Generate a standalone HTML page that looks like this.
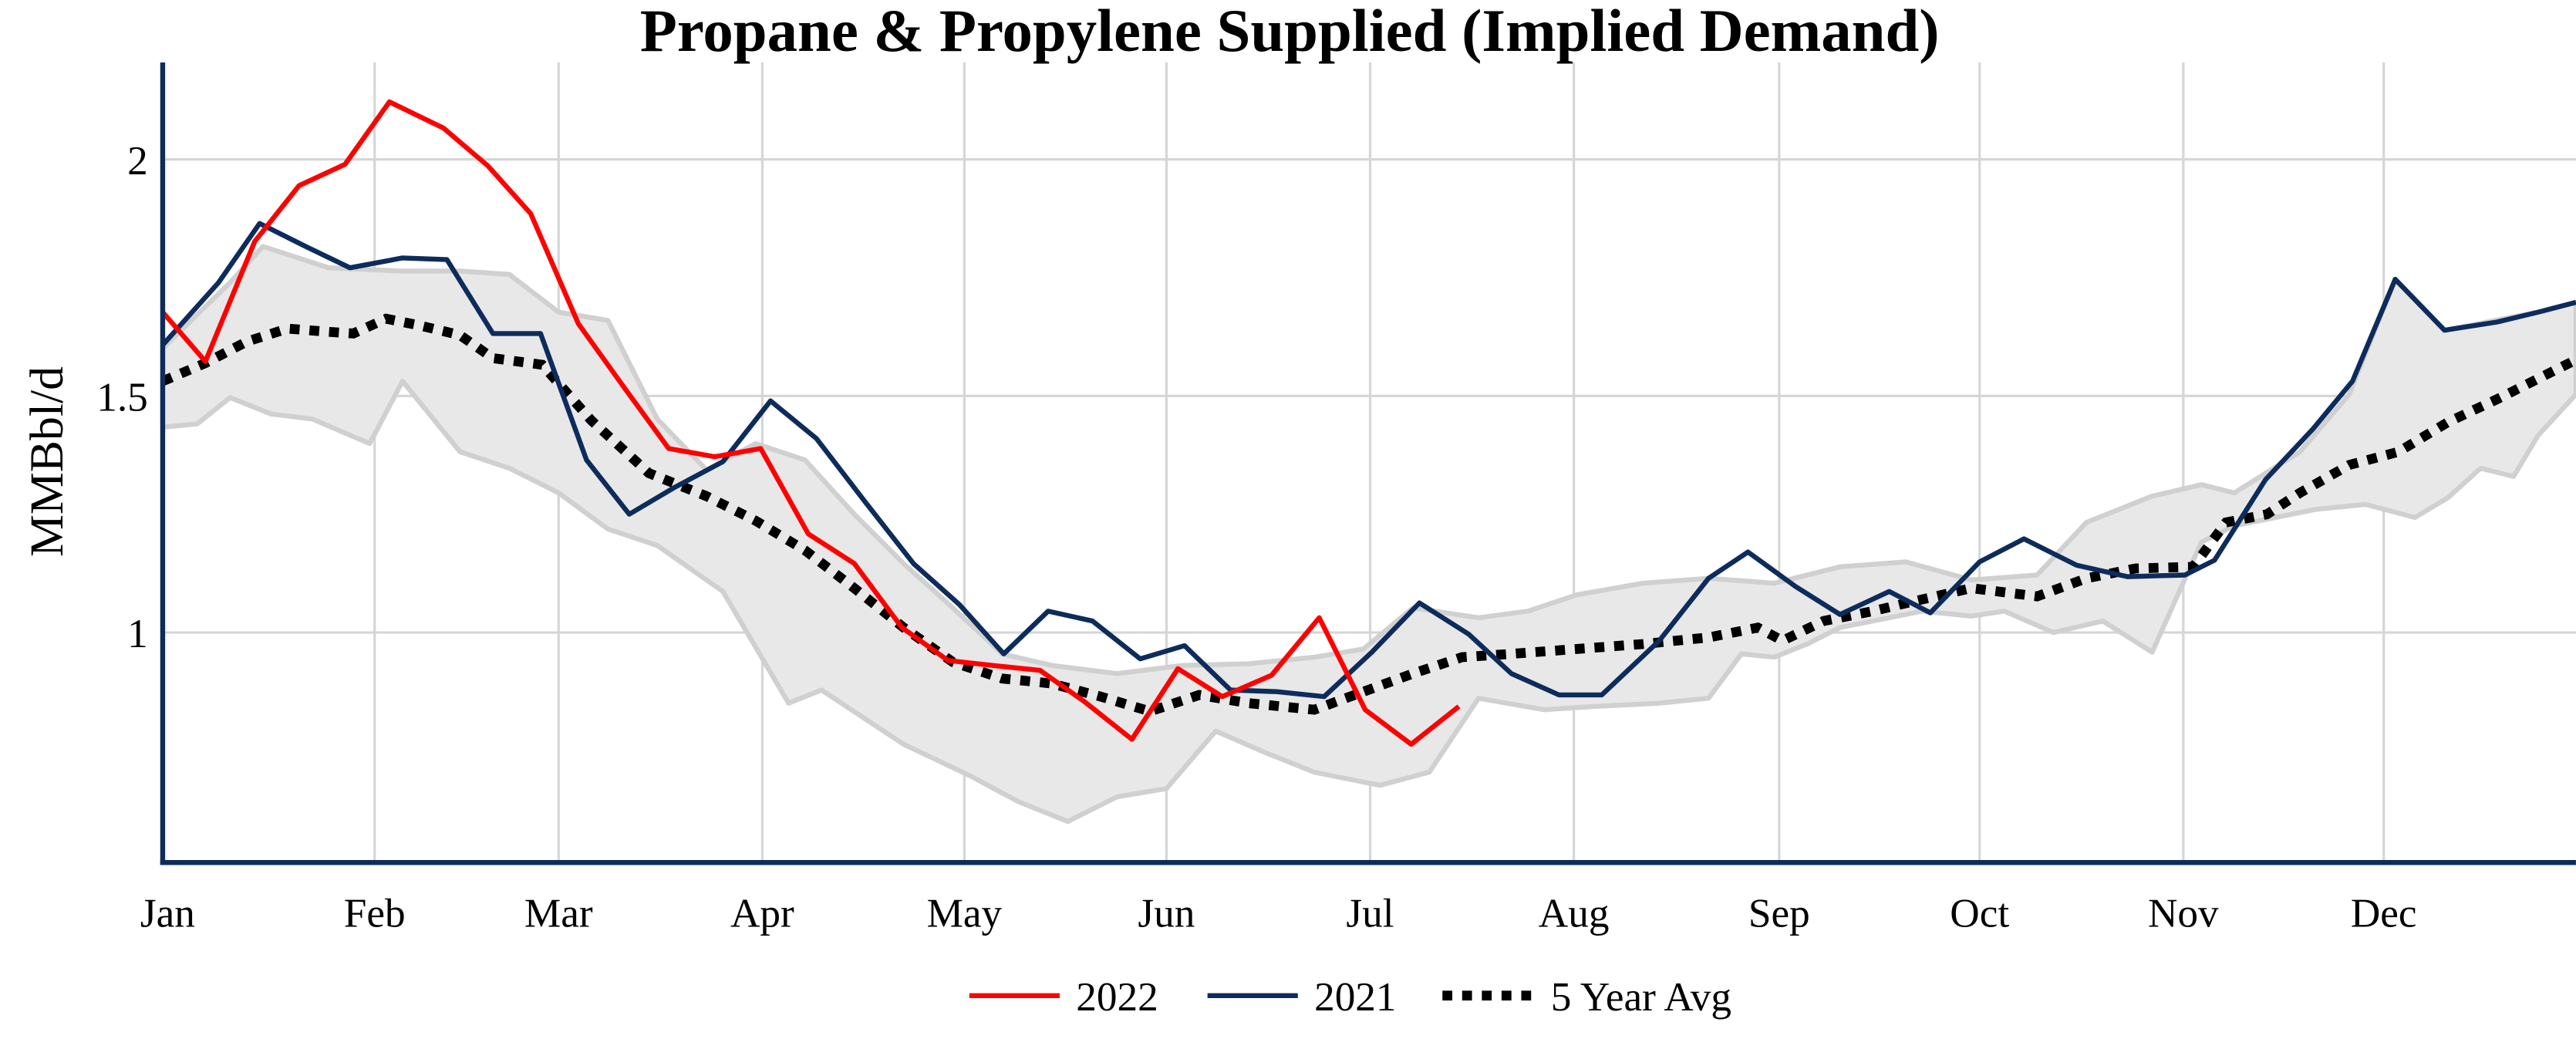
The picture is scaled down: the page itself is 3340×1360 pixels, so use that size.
<!DOCTYPE html>
<html><head><meta charset="utf-8"><style>html,body{margin:0;padding:0;background:#fff}svg{display:block}</style></head>
<body>
<svg width="3340" height="1360" viewBox="0 0 1568 638.5" xmlns="http://www.w3.org/2000/svg" font-family="'Liberation Serif', serif">
<rect width="1568" height="638.5" fill="#fff"/>
<text x="785" y="31" text-anchor="middle" font-size="37" font-weight="bold">Propane &amp; Propylene Supplied (Implied Demand)</text>
<g stroke="#d6d6d6" stroke-width="1.5">
<line x1="99" x2="1568" y1="97" y2="97"/><line x1="99" x2="1568" y1="241" y2="241"/><line x1="99" x2="1568" y1="385" y2="385"/>
<line x1="228" x2="228" y1="38" y2="525"/><line x1="340" x2="340" y1="38" y2="525"/><line x1="464" x2="464" y1="38" y2="525"/><line x1="587" x2="587" y1="38" y2="525"/><line x1="710" x2="710" y1="38" y2="525"/><line x1="834" x2="834" y1="38" y2="525"/><line x1="958" x2="958" y1="38" y2="525"/><line x1="1083" x2="1083" y1="38" y2="525"/><line x1="1205" x2="1205" y1="38" y2="525"/><line x1="1329" x2="1329" y1="38" y2="525"/><line x1="1451" x2="1451" y1="38" y2="525"/>
</g>
<polygon fill="#e8e8e8" stroke="#d0d0d0" stroke-width="3" stroke-linejoin="round" points="99,212 140,172 160,150 200,163 245,165 280,165 310,167 340,190 370,195 400,255 430,286 460,270 490,280 520,313 550,343 580,370 610,398 640,405 680,410 720,405 760,404 800,400 830,395 860,370 900,376 930,372 960,362 1000,355 1040,352 1080,355 1120,345 1160,342 1200,353 1240,350 1270,318 1310,302 1340,295 1360,300 1400,275 1430,240 1458,170 1488,201 1545,190 1568,184 1568,240 1545,265 1530,290 1510,285 1490,303 1470,315 1440,307 1410,310 1380,316 1360,320 1340,330 1310,397 1280,378 1250,385 1220,372 1200,375 1170,372 1140,378 1120,382 1100,392 1080,400 1060,398 1040,425 1010,428 970,430 940,432 900,425 870,470 840,478 800,470 770,458 740,445 710,480 680,485 650,500 620,488 590,472 550,453 500,420 480,428 440,360 400,332 370,322 340,300 310,285 280,275 245,232 225,270 190,255 165,252 140,242 120,258 99,260"/>
<polyline fill="none" stroke="#000" stroke-width="6" stroke-dasharray="6,6" points="99,232 125,221 150,208 175,200 200,202 215,203 235,194 255,198 280,204 300,218 330,222 360,256 395,288 430,302 460,317 490,335 520,358 550,382 580,403 610,413 640,416 670,424 700,433 730,423 760,428 800,432 830,421 860,410 890,400 920,398 960,395 1000,392 1040,388 1070,382 1085,390 1110,378 1140,372 1165,366 1200,358 1240,363 1270,352 1300,346 1335,345 1355,318 1380,313 1400,300 1430,283 1460,275 1490,257 1520,243 1568,219"/>
<polyline fill="none" stroke="#0d2c5c" stroke-width="3" stroke-linejoin="round" points="99,210 133,172 158,136 186,150 213,163 245,157 272,158 300,203 329,203 357,280 383,313 410,297 440,281 469,244 497,267 527,306 556,343 584,368 611,398 638,372 665,378 694,401 721,393 749,420 777,421 806,424 835,397 864,367 894,386 920,410 949,423 975,423 1010,390 1040,352 1064,336 1093,357 1120,374 1150,360 1175,373 1205,342 1232,328 1264,344 1295,351 1330,350 1348,341 1379,292 1408,261 1432,232 1458,170 1488,201 1520,196 1545,190 1568,184"/>
<polyline fill="none" stroke="#ff0000" stroke-width="3" stroke-linejoin="round" points="99,190 125,220 155,147 182,113 210,100 237,62 270,78 297,101 323,130 352,197 380,236 407,273 435,278 463,273 492,325 520,343 549,382 577,402 604,405 633,408 660,427 689,450 717,407 744,424 774,411 803,376 831,432 859,453 888,430"/>
<line x1="99" y1="38" x2="99" y2="526.5" stroke="#0d2c5c" stroke-width="3"/>
<line x1="97.5" y1="525" x2="1568" y2="525" stroke="#0d2c5c" stroke-width="3"/>
<g font-size="25" text-anchor="end"><text x="90" y="106">2</text><text x="90" y="250">1.5</text><text x="90" y="394">1</text></g>
<text transform="translate(38,281) rotate(-90)" text-anchor="middle" font-size="29">MMBbl/d</text>
<g font-size="25" text-anchor="middle"><text x="102" y="564">Jan</text><text x="228" y="564">Feb</text><text x="340" y="564">Mar</text><text x="464" y="564">Apr</text><text x="587" y="564">May</text><text x="710" y="564">Jun</text><text x="834" y="564">Jul</text><text x="958" y="564">Aug</text><text x="1083" y="564">Sep</text><text x="1205" y="564">Oct</text><text x="1329" y="564">Nov</text><text x="1451" y="564">Dec</text></g>
<g font-size="25">
<line x1="590" x2="645" y1="606" y2="606" stroke="#ff0000" stroke-width="3"/><text x="655" y="615">2022</text>
<line x1="735" x2="790" y1="606" y2="606" stroke="#0d2c5c" stroke-width="3"/><text x="800" y="615">2021</text>
<line x1="878" x2="934" y1="606" y2="606" stroke="#000" stroke-width="6" stroke-dasharray="6,6"/><text x="944" y="615">5 Year Avg</text>
</g>
</svg>
</body></html>
